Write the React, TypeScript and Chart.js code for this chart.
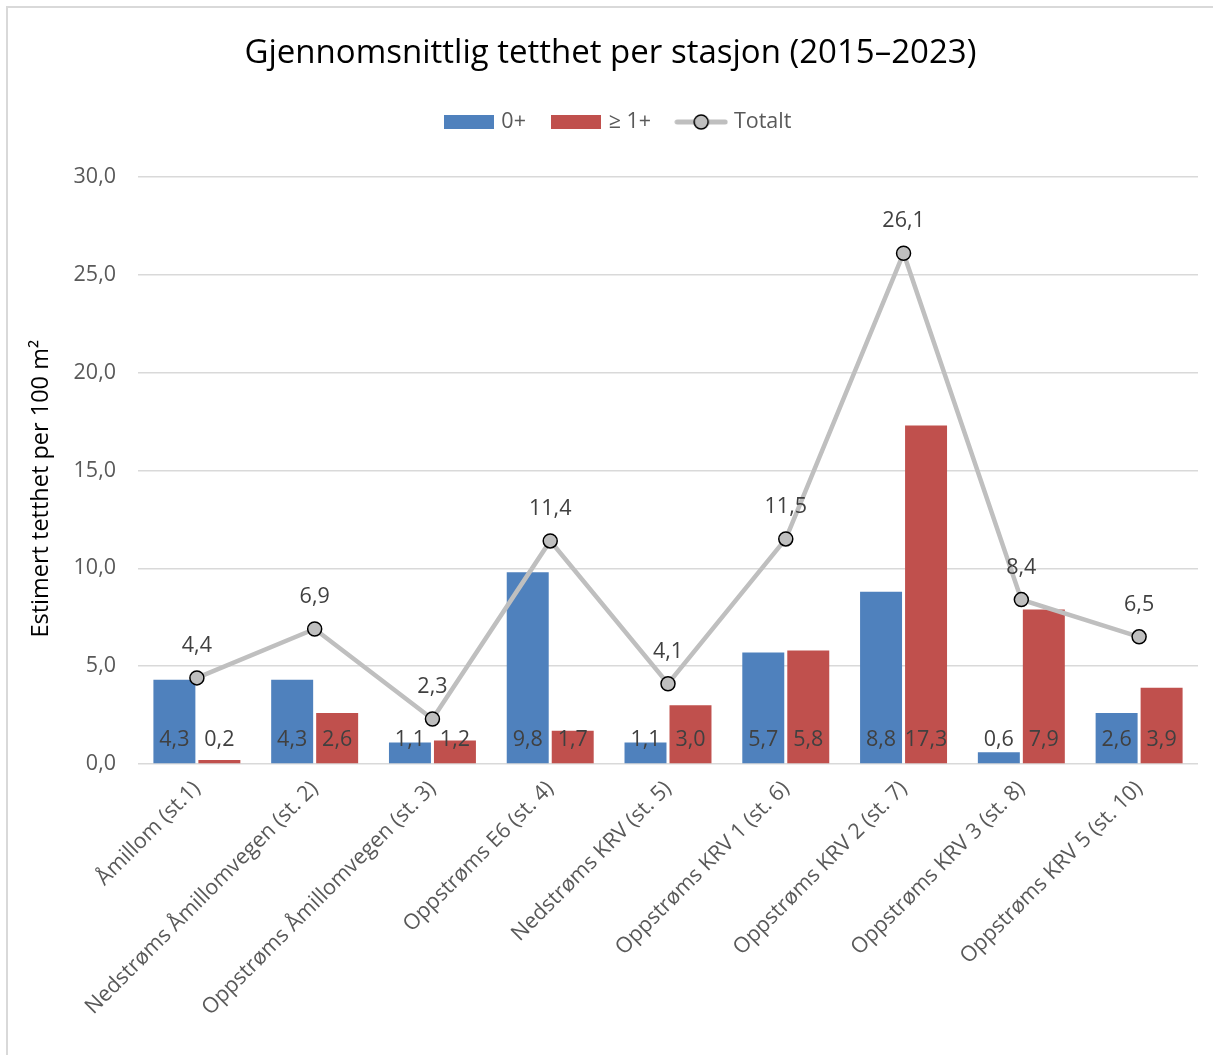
import React, { useEffect, useRef } from 'react';
import { Chart, registerables } from 'chart.js';

Chart.register(...registerables);

const categories = [
  'Åmillom (st.1)',
  'Nedstrøms Åmillomvegen (st. 2)',
  'Oppstrøms Åmillomvegen (st. 3)',
  'Oppstrøms E6 (st. 4)',
  'Nedstrøms KRV (st. 5)',
  'Oppstrøms KRV 1 (st. 6)',
  'Oppstrøms KRV 2 (st. 7)',
  'Oppstrøms KRV 3 (st. 8)',
  'Oppstrøms KRV 5 (st. 10)',
];
const series0 = [4.3, 4.3, 1.1, 9.8, 1.1, 5.7, 8.8, 0.6, 2.6];
const series1 = [0.2, 2.6, 1.2, 1.7, 3.0, 5.8, 17.3, 7.9, 3.9];
const seriesTotal = [4.4, 6.9, 2.3, 11.4, 4.1, 11.5, 26.1, 8.4, 6.5];
const seriesNames = ['0+', '≥ 1+', 'Totalt'];
const yMin = 0;
const yMax = 30;
const yStep = 5;

const FONT = '"Open Sans", "Noto Sans", sans-serif';
const BLUE = '#4F81BD';
const RED = '#C0504D';
const GREY = '#BFBFBF';
const FS = 21.5;

const fmt = (v: number) => v.toFixed(1).replace('.', ',');

const valueLabels = {
  id: 'valueLabels',
  afterDatasetsDraw(chart: any) {
    const ctx = chart.ctx;
    const yScale = chart.scales.y;
    ctx.save();
    ctx.font = `${FS}px ${FONT}`;
    ctx.fillStyle = '#404040';
    ctx.textAlign = 'center';
    ctx.textBaseline = 'middle';
    chart.data.datasets.forEach((ds: any, i: number) => {
      const meta = chart.getDatasetMeta(i);
      meta.data.forEach((el: any, j: number) => {
        const v = ds.data[j];
        const y = ds.type === 'line' ? el.y - 32 : yScale.getPixelForValue(0) - 24;
        ctx.fillText(fmt(v), el.x, y);
      });
    });
    ctx.restore();
  },
};

function makeBox(color: string) {
  const c = document.createElement('canvas');
  c.width = 50;
  c.height = 14;
  const g = c.getContext('2d')!;
  g.fillStyle = color;
  g.fillRect(0, 0, 50, 14);
  return c;
}

function makeLineSample() {
  const c = document.createElement('canvas');
  c.width = 54;
  c.height = 18;
  const g = c.getContext('2d')!;
  g.strokeStyle = GREY;
  g.lineWidth = 5;
  g.lineCap = 'round';
  g.beginPath();
  g.moveTo(3, 9);
  g.lineTo(51, 9);
  g.stroke();
  g.beginPath();
  g.arc(27, 9, 7, 0, Math.PI * 2);
  g.fillStyle = GREY;
  g.fill();
  g.lineWidth = 1.5;
  g.strokeStyle = '#000';
  g.stroke();
  return c;
}

export default function App() {
  const ref = useRef<HTMLCanvasElement>(null);

  useEffect(() => {
    if (!ref.current) return;
    const styles = [makeBox(BLUE), makeBox(RED), makeLineSample()];
    const chart = new Chart(ref.current, {
      type: 'bar',
      data: {
        labels: categories,
        datasets: [
          {
            type: 'bar',
            label: seriesNames[0],
            data: series0,
            backgroundColor: BLUE,
            order: 1,
            categoryPercentage: 0.764,
            barPercentage: 0.933,
          },
          {
            type: 'bar',
            label: seriesNames[1],
            data: series1,
            backgroundColor: RED,
            order: 2,
            categoryPercentage: 0.764,
            barPercentage: 0.933,
          },
          {
            type: 'line',
            label: seriesNames[2],
            data: seriesTotal,
            borderColor: GREY,
            borderWidth: 4.5,
            pointRadius: 7,
            pointBackgroundColor: GREY,
            pointBorderColor: '#000',
            pointBorderWidth: 1.5,
            tension: 0,
            order: 0,
          },
        ] as any,
      },
      options: {
        responsive: false,
        animation: false,
        devicePixelRatio: 1,
        layout: { padding: { left: 40, right: 15, top: 0, bottom: 0 } },
        plugins: {
          title: {
            display: true,
            text: 'Gjennomsnittlig tetthet per stasjon (2015–2023)  ',
            color: '#000',
            font: { family: FONT, size: 33, weight: 'normal' as any, lineHeight: 1.2 },
            padding: { top: 34, bottom: 9.6 },
          },
          subtitle: {
            display: true,
            text: '',
            weight: 1,
            font: { size: 10, lineHeight: 1 },
            padding: { top: 24.2, bottom: 0 },
          } as any,
          legend: {
            display: true,
            position: 'top',
            labels: {
              usePointStyle: true,
              pointStyleWidth: 44,
              boxHeight: 14,
              padding: 28,
              color: '#595959',
              font: { family: FONT, size: FS },
              generateLabels: () =>
                seriesNames.map((name, i) => ({
                  text: name,
                  datasetIndex: i,
                  pointStyle: styles[i] as any,
                  fillStyle: 'transparent',
                  strokeStyle: 'transparent',
                  lineWidth: 0,
                  hidden: false,
                  fontColor: '#595959',
                })),
            },
          },
          tooltip: { enabled: false },
        },
        scales: {
          x: {
            grid: { display: false },
            border: { display: false },
            ticks: {
              color: '#595959',
              font: { family: FONT, size: FS },
              minRotation: 45,
              maxRotation: 45,
              padding: 4,
            },
            afterFit: (s: any) => {
              s.height = 291;
            },
          },
          y: {
            min: yMin,
            max: yMax,
            grid: { color: '#D9D9D9', lineWidth: 1.5, drawTicks: false },
            border: { display: false },
            ticks: {
              stepSize: yStep,
              color: '#595959',
              font: { family: FONT, size: FS },
              padding: 22,
              callback: (v: any) => fmt(Number(v)),
            },
            title: {
              display: true,
              text: 'Estimert tetthet per 100 m²      ',
              color: '#000',
              font: { family: FONT, size: 23.5, lineHeight: 0.1 },
              padding: { top: 0, bottom: 0 },
            },
            afterFit: (s: any) => {
              s.width = 98;
            },
          },
        },
      },
      plugins: [valueLabels],
    });
    return () => chart.destroy();
  }, []);

  return (
    <div
      style={{
        position: 'fixed',
        left: 0,
        top: 0,
        width: 1213,
        height: 1055,
        overflow: 'hidden',
        background: '#fff',
      }}
    >
      <div
        style={{
          position: 'absolute',
          left: 6,
          top: 6,
          width: 1300,
          height: 1200,
          border: '2px solid #D9D9D9',
        }}
      />
      <canvas
        ref={ref}
        width={1213}
        height={1055}
        style={{ position: 'absolute', left: 0, top: 0, width: 1213, height: 1055 }}
      />
    </div>
  );
}
